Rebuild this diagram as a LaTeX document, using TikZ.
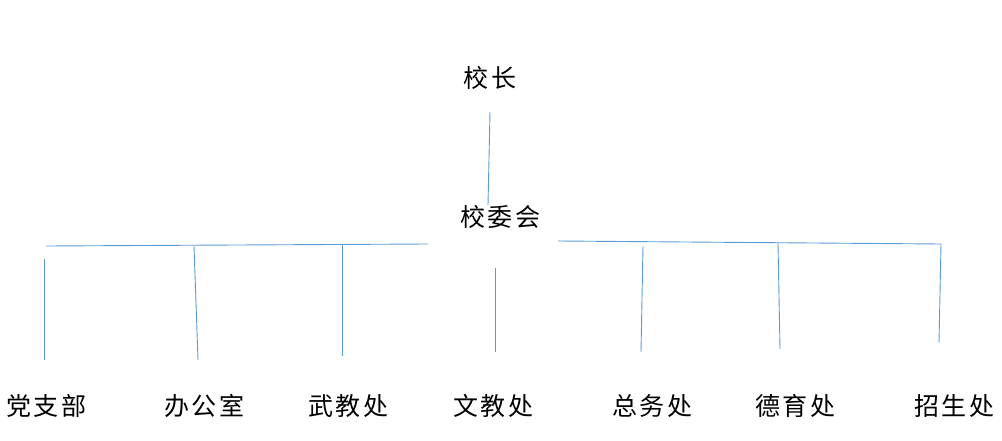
\documentclass[tikz,border=0pt]{standalone}
\usepackage{fontspec}
\newfontfamily\cjk[LetterSpace=10]{Noto Sans CJK SC}
\definecolor{lineblue}{HTML}{5B9BD5}
\tikzset{
  lbl/.style={inner sep=0pt, font=\cjk\fontsize{25pt}{27pt}\selectfont, text=black},
  link/.style={draw=lineblue, line width=0.9pt}
}
\begin{document}
\begin{tikzpicture}[x=1pt,y=-1pt]
\useasboundingbox (0,0) rectangle (1002,441);
% labels
\node[lbl] (xz) at (490,78) {校长};
\node[lbl] (xwh) at (500,217) {校委会};
\node[lbl] (d1) at (46,406) {党支部};
\node[lbl] (d2) at (204,406) {办公室};
\node[lbl] (d3) at (348,406) {武教处};
\node[lbl] (d4) at (493,406) {文教处};
\node[lbl] (d5) at (652,406) {总务处};
\node[lbl] (d6) at (795,406) {德育处};
\node[lbl] (d7) at (954,406) {招生处};
% coordinates
\coordinate (a1) at (490,112);
\coordinate (a2) at (488,205);
\coordinate (hl1) at (46,246);
\coordinate (hl2) at (428,244);
\coordinate (hr1) at (558,241);
\coordinate (hr2) at (941,244);
\coordinate (v1t) at (44,259);  \coordinate (v1b) at (44,360);
\coordinate (v2t) at (194,246); \coordinate (v2b) at (198,360);
\coordinate (v3t) at (342,244); \coordinate (v3b) at (342,356);
\coordinate (v4t) at (495,268); \coordinate (v4b) at (495,352);
\coordinate (v5t) at (643,246); \coordinate (v5b) at (641,352);
\coordinate (v6t) at (778,243); \coordinate (v6b) at (780,349);
\coordinate (v7t) at (941,244); \coordinate (v7b) at (939,343);
% connectors
\draw[link] (a1) -- (a2);
\draw[link] (hl1) -- (hl2);
\draw[link] (hr1) -- (hr2);
\draw[link] (v1t) -- (v1b);
\draw[link] (v2t) -- (v2b);
\draw[link] (v3t) -- (v3b);
\draw[link] (v4t) -- (v4b);
\draw[link] (v5t) -- (v5b);
\draw[link] (v6t) -- (v6b);
\draw[link] (v7t) -- (v7b);
\end{tikzpicture}
\end{document}
